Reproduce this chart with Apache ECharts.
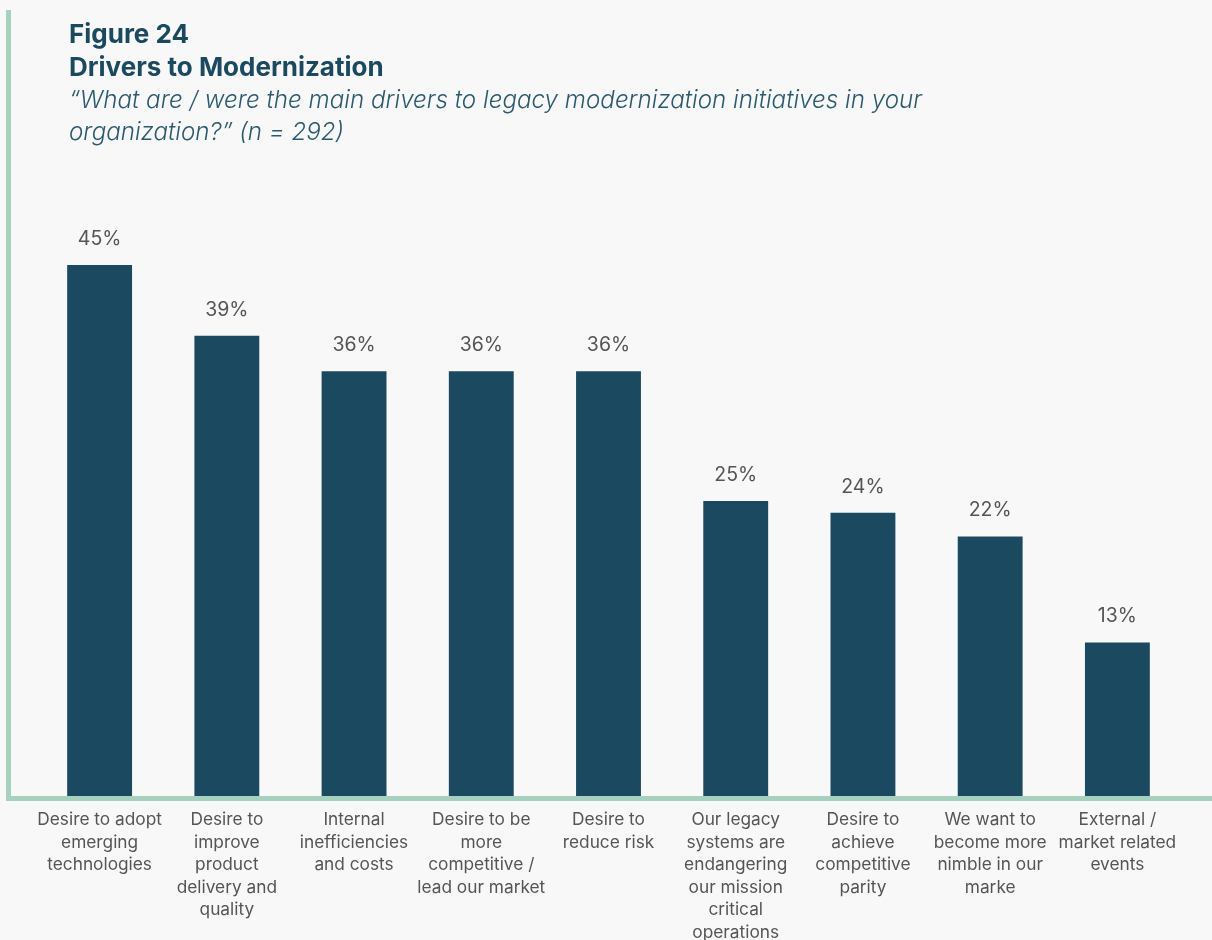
<!DOCTYPE html>
<html>
<head>
<meta charset="utf-8">
<script src="https://cdn.jsdelivr.net/npm/echarts@6/dist/echarts.min.js"></script>
<style>
  html, body { margin: 0; padding: 0; background: #f8f8f8; }
  #chart { width: 1212px; height: 940px; }
</style>
</head>
<body>
<div id="chart"></div>
<script>
// Survey drivers (share of respondents, %)
const categories = [
  'Desire to adopt\nemerging\ntechnologies',
  'Desire to\nimprove\nproduct\ndelivery and\nquality',
  'Internal\ninefficiencies\nand costs',
  'Desire to be\nmore\ncompetitive /\nlead our market',
  'Desire to\nreduce risk',
  'Our legacy\nsystems are\nendangering\nour mission\ncritical\noperations',
  'Desire to\nachieve\ncompetitive\nparity',
  'We want to\nbecome more\nnimble in our\nmarke',
  'External /\nmarket related\nevents'
];
const values = [45, 39, 36, 36, 36, 25, 24, 22, 13];

const titleLines = 'Figure 24\nDrivers to Modernization';
const subtitleLines = '\u201cWhat are / were the main drivers to legacy modernization initiatives in your\norganization?\u201d (n = 292)';

const FONT = 'Inter, Lato, sans-serif';
const TEAL = '#1b4a60';
const FRAME = '#a6d1bf';

const chart = echarts.init(document.getElementById('chart'), null, { renderer: 'canvas' });

chart.setOption({
  backgroundColor: '#f8f8f8',
  animation: false,
  title: {
    text: titleLines,
    subtext: subtitleLines,
    left: 64,
    top: 14,
    itemGap: 0,
    textStyle: {
      fontFamily: FONT,
      fontWeight: 'bold',
      fontSize: 26,
      lineHeight: 33,
      color: TEAL
    },
    subtextStyle: {
      fontFamily: FONT,
      fontStyle: 'italic',
      fontWeight: 300,
      fontSize: 24.2,
      lineHeight: 32,
      color: '#2b5a6e'
    }
  },
  grid: {
    left: 36,
    right: 31,
    top: 206,
    bottom: 144,
    containLabel: false,
    outerBoundsMode: 'none'
  },
  xAxis: {
    type: 'category',
    data: categories,
    axisLine: { show: false },
    axisTick: { show: false },
    axisLabel: {
      interval: 0,
      margin: 13,
      fontFamily: FONT,
      fontSize: 17.3,
      lineHeight: 22.5,
      color: '#555555',
      align: 'center'
    }
  },
  yAxis: {
    type: 'value',
    min: 0,
    max: 50,
    show: false,
    splitLine: { show: false }
  },
  series: [{
    type: 'bar',
    data: values,
    barWidth: '51%',
    itemStyle: { color: TEAL },
    label: {
      show: true,
      position: 'top',
      distance: 16,
      formatter: '{c}%',
      fontFamily: FONT,
      fontSize: 19.5,
      color: '#555555'
    }
  }],
  graphic: [
    {
      type: 'rect',
      shape: { x: 6, y: 10, width: 5, height: 791 },
      style: { fill: FRAME },
      silent: true,
      z: 10
    },
    {
      type: 'rect',
      shape: { x: 6, y: 796, width: 1206, height: 5 },
      style: { fill: FRAME },
      silent: true,
      z: 10
    }
  ]
});
</script>
</body>
</html>
